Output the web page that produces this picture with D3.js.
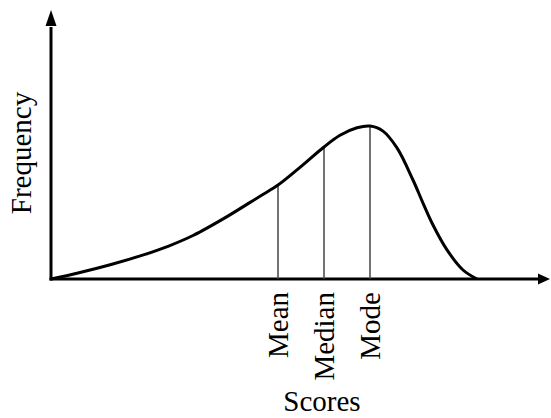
<!DOCTYPE html>
<html>
<head>
<meta charset="UTF-8">
<title>Skewed distribution</title>
<script src="https://cdnjs.cloudflare.com/ajax/libs/d3/7.8.5/d3.min.js"></script>
<style>
  body { margin: 0; background: #fff; }
  text { font-family: "Liberation Serif", "Times New Roman", serif; font-size: 29px; fill: #000; }
</style>
</head>
<body>
<svg id="chart" width="551" height="418"></svg>
<script>
// curve (score, frequency)
var scores = [0, 5.4, 12.2, 18.8, 23.4, 28.4, 35.2, 41.8, 45.4, 49.8, 54.6, 57.8, 61.2, 63.8, 66.4, 69.2, 72.4, 74.4, 76.4, 79.2, 82.4, 85.2];
var freqs  = [0, 2, 4.9, 8.2, 10.9, 14.5, 20.8, 27.6, 31.3, 37.2, 44, 47.9, 50.4, 51, 49.3, 43.7, 33, 25.3, 18, 9.7, 3, 0];

var markNames = ["Mean", "Median", "Mode"];
var markScores = [45.4, 54.6, 63.8];
var markFreqs = [31.3, 44, 51];

var svg = d3.select("#chart");
var x = d3.scaleLinear().domain([0, 100]).range([51, 551]);
var y = d3.scaleLinear().domain([0, 90]).range([279, 9]);

// axes
svg.append("line")
    .attr("x1", x(0)).attr("y1", y(0) + 1.5)
    .attr("x2", x(0)).attr("y2", y(84))
    .attr("stroke", "#000").attr("stroke-width", 3);
svg.append("line")
    .attr("x1", x(0) - 1.5).attr("y1", y(0))
    .attr("x2", x(97.8)).attr("y2", y(0))
    .attr("stroke", "#000").attr("stroke-width", 3);

function arrow(tx, ty, dir) {
  var pts;
  if (dir == "up") pts = [[tx, ty], [tx - 5.5, ty + 16], [tx + 5.5, ty + 16]];
  else pts = [[tx, ty], [tx - 12, ty - 5.5], [tx - 12, ty + 5.5]];
  svg.append("polygon").attr("points", pts.map(function (p) { return p.join(","); }).join(" ")).attr("fill", "#000");
}
arrow(x(0), y(89.7), "up");
arrow(x(99.8), y(0), "right");

// marker lines
svg.selectAll(".mark").data(markScores).enter().append("line")
    .attr("class", "mark")
    .attr("x1", function (d) { return x(d); }).attr("x2", function (d) { return x(d); })
    .attr("y1", y(0)).attr("y2", function (d, i) { return y(markFreqs[i]); })
    .attr("stroke", "#444").attr("stroke-width", 1.5);

// curve
var pts = scores.map(function (s, i) { return [s, freqs[i]]; });
var line = d3.line().x(function (d) { return x(d[0]); }).y(function (d) { return y(d[1]); })
    .curve(d3.curveCatmullRom.alpha(0.5));
svg.append("path").datum(pts).attr("d", line)
    .attr("fill", "none").attr("stroke", "#000").attr("stroke-width", 3);

// marker labels
svg.selectAll(".lab").data(markNames).enter().append("text")
    .attr("class", "lab")
    .attr("transform", function (d, i) { return "translate(" + x(markScores[i]) + ",292) rotate(-90)"; })
    .attr("text-anchor", "end").attr("dy", "0.33em")
    .text(function (d) { return d; });

// axis titles
svg.append("text").attr("transform", "translate(31,153) rotate(-90)")
    .attr("text-anchor", "middle").text("Frequency");
svg.append("text").attr("x", 322).attr("y", 411)
    .attr("text-anchor", "middle").text("Scores");
</script>
</body>
</html>
